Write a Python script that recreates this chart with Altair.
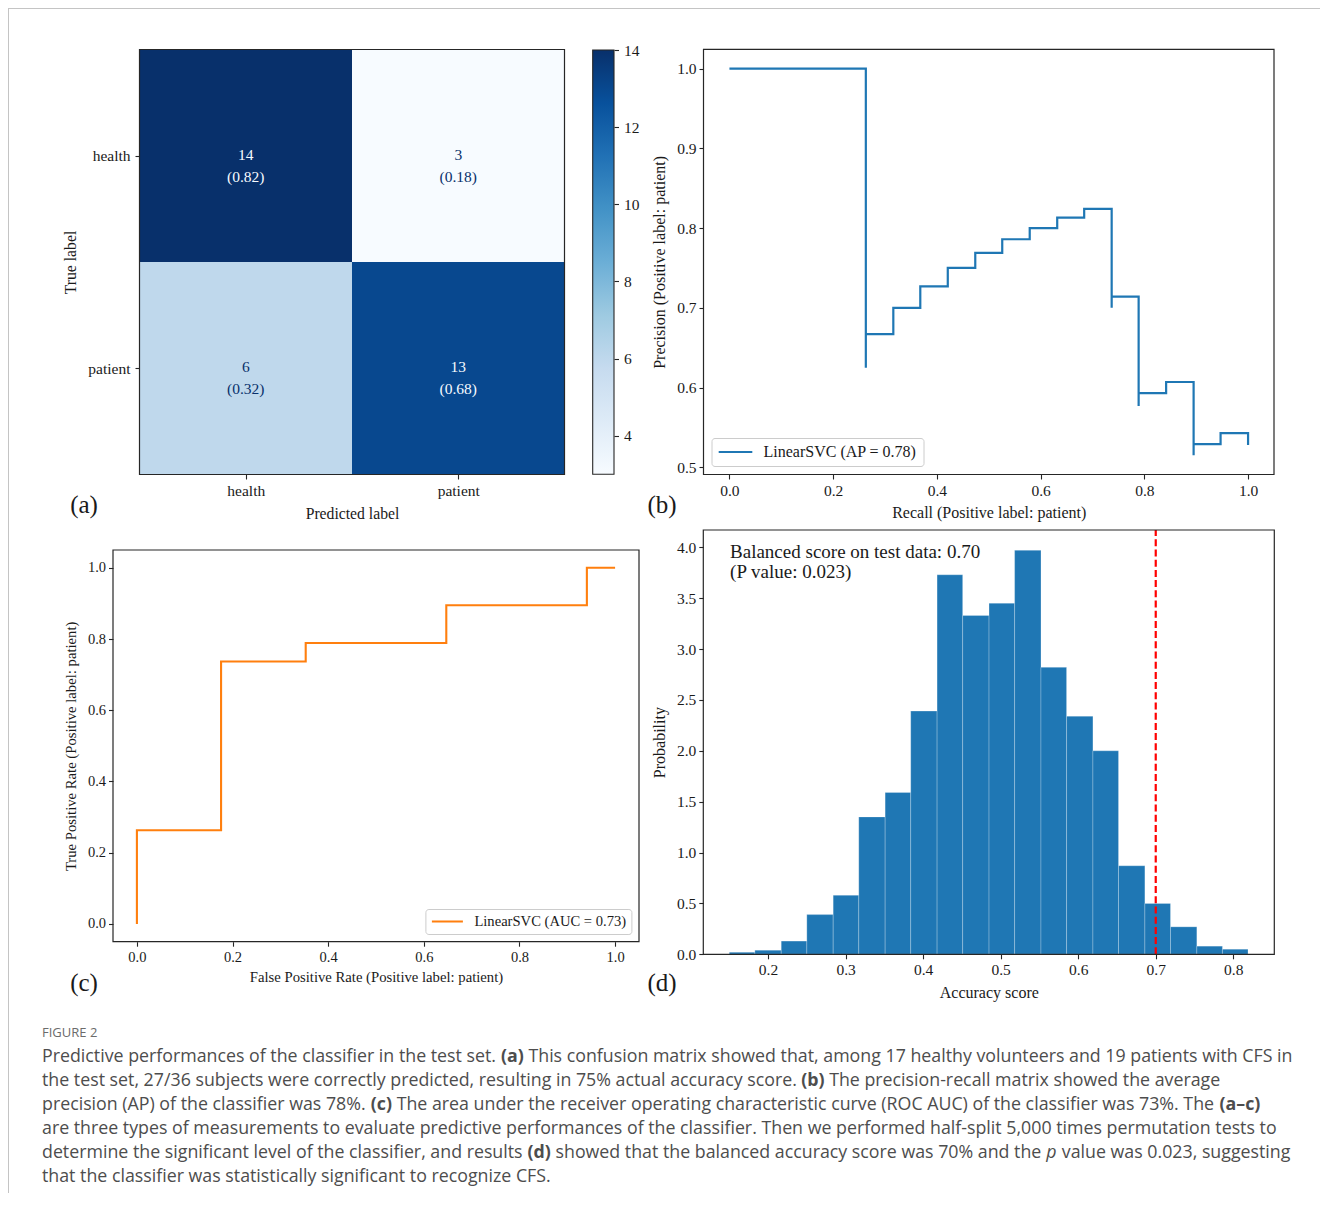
import glob
import json
import os
import struct

import altair as alt
import pandas as pd

# ---------------------------------------------------------------- canvas
W, H = 1313, 1185
SERIF = "Liberation Serif"
SANS = "Open Sans"
INK = "#1a1a1a"
SPINE = "#262626"

# ---------------------------------------------------------------- (a) confusion matrix
class_labels = ["health", "patient"]
cm_counts = [[14, 3], [6, 13]]
cm_ratios = [["(0.82)", "(0.18)"], ["(0.32)", "(0.68)"]]
cbar_limits = [3, 14]
cbar_ticks = [4, 6, 8, 10, 12, 14]
blues9 = ["#f7fbff", "#deebf7", "#c6dbef", "#9ecae1", "#6baed6",
          "#4292c6", "#2171b5", "#08519c", "#08306b"]

# ---------------------------------------------------------------- (b) precision-recall
pr_recall = [1.000, 1.000, 0.947, 0.895, 0.895, 0.842, 0.789, 0.789, 0.737, 0.737,
             0.684, 0.632, 0.579, 0.526, 0.474, 0.421, 0.368, 0.316, 0.263, 0.263, 0.000]
pr_precision = [0.528, 0.543, 0.529, 0.515, 0.607, 0.593, 0.577, 0.714, 0.700, 0.824,
                0.813, 0.800, 0.786, 0.769, 0.750, 0.727, 0.700, 0.667, 0.625, 1.000, 1.000]
pr_label = "LinearSVC (AP = 0.78)"

# ---------------------------------------------------------------- (c) ROC
roc_fpr = [0.000, 0.000, 0.176, 0.176, 0.353, 0.353, 0.647, 0.647, 0.941, 0.941, 1.000]
roc_tpr = [0.000, 0.263, 0.263, 0.737, 0.737, 0.789, 0.789, 0.895, 0.895, 1.000, 1.000]
roc_label = "LinearSVC (AUC = 0.73)"

# ---------------------------------------------------------------- (d) permutation histogram
hist_edges = [0.150, 0.183, 0.217, 0.250, 0.284, 0.317, 0.351, 0.384, 0.418, 0.451, 0.485,
              0.518, 0.552, 0.585, 0.619, 0.652, 0.686, 0.719, 0.753, 0.786, 0.819]
hist_density = [0.02, 0.04, 0.13, 0.39, 0.58, 1.35, 1.59, 2.39, 3.73, 3.33,
                3.45, 3.97, 2.82, 2.34, 2.00, 0.87, 0.50, 0.27, 0.08, 0.05]
test_score = 0.70
p_value = "0.023"

# ---------------------------------------------------------------- caption (segments: text, style)
caption_head = "FIGURE 2"
caption_segments = [
    [("Predictive performances of the classifier in the test set. ", "n"), ("(a)", "b"),
     (" This confusion matrix showed that, among 17 healthy volunteers and 19 patients with CFS in", "n")],
    [("the test set, 27/36 subjects were correctly predicted, resulting in 75% actual accuracy score. ", "n"),
     ("(b)", "b"), (" The precision-recall matrix showed the average", "n")],
    [("precision (AP) of the classifier was 78%. ", "n"), ("(c)", "b"),
     (" The area under the receiver operating characteristic curve (ROC AUC) of the classifier was 73%. The ", "n"),
     ("(a\u2013c)", "b")],
    [("are three types of measurements to evaluate predictive performances of the classifier. Then we performed half-split 5,000 times permutation tests to", "n")],
    [("determine the significant level of the classifier, and results ", "n"), ("(d)", "b"),
     (" showed that the balanced accuracy score was 70% and the ", "n"), ("p", "i"),
     (" value was 0.023, suggesting", "n")],
    [("that the classifier was statistically significant to recognize CFS.", "n")],
]

# ---------------------------------------------------------------- layout (pixels inside the chart)
A_X, A_Y = [131.5, 556.5], [41.5, 466.5]
CB_X, CB_Y = [584.7, 606.0], [466.3, 42.0]
B_X, B_Y = [695.5, 1266.0], [466.5, 41.3]
C_X, C_Y = [105.0, 631.0], [933.7, 542.0]
D_X, D_Y = [695.3, 1266.3], [946.3, 522.0]

A_LIM = [-0.5, 1.5]
B_XLIM, B_YLIM = [-0.05, 1.05], [0.491, 1.0242]
C_XLIM, C_YLIM = [-0.05, 1.05], [-0.05, 1.05]
D_XLIM, D_YLIM = [0.1165, 0.8529], [0.0, 4.17]

CAP_X, CAP_Y0, CAP_DY, CAP_SIZE = 34, 1049, 24, 17.8


# ---------------------------------------------------------------- font metrics (for caption runs)
def _ttf_width_fn(path):
    data = open(path, "rb").read()
    if data[:4] == b"ttcf":
        off0 = struct.unpack(">I", data[12:16])[0]
    else:
        off0 = 0
    num = struct.unpack(">H", data[off0 + 4:off0 + 6])[0]
    tabs = {}
    for i in range(num):
        tag, _cs, off, ln = struct.unpack(">4sIII", data[off0 + 12 + 16 * i: off0 + 28 + 16 * i])
        tabs[tag.decode("latin1")] = off
    upem = struct.unpack(">H", data[tabs["head"] + 18: tabs["head"] + 20])[0]
    nhm = struct.unpack(">H", data[tabs["hhea"] + 34: tabs["hhea"] + 36])[0]
    hm = tabs["hmtx"]
    adv = [struct.unpack(">H", data[hm + 4 * i: hm + 4 * i + 2])[0] for i in range(nhm)]
    co = tabs["cmap"]
    n = struct.unpack(">H", data[co + 2: co + 4])[0]
    sub = None
    for i in range(n):
        pid, eid, so = struct.unpack(">HHI", data[co + 4 + 8 * i: co + 12 + 8 * i])
        fmt = struct.unpack(">H", data[co + so: co + so + 2])[0]
        if fmt == 4 and pid in (0, 3):
            sub = co + so
            break
    segx2 = struct.unpack(">H", data[sub + 6: sub + 8])[0]
    seg = segx2 // 2
    ends = struct.unpack(">%dH" % seg, data[sub + 14: sub + 14 + segx2])
    starts = struct.unpack(">%dH" % seg, data[sub + 16 + segx2: sub + 16 + 2 * segx2])
    deltas = struct.unpack(">%dh" % seg, data[sub + 16 + 2 * segx2: sub + 16 + 3 * segx2])
    rpos = sub + 16 + 3 * segx2
    roffs = struct.unpack(">%dH" % seg, data[rpos: rpos + segx2])

    def gid(ch):
        c = ord(ch)
        for k in range(seg):
            if ends[k] >= c:
                if starts[k] > c:
                    return 0
                if roffs[k] == 0:
                    return (c + deltas[k]) & 0xFFFF
                addr = rpos + 2 * k + roffs[k] + 2 * (c - starts[k])
                g = struct.unpack(">H", data[addr: addr + 2])[0]
                return (g + deltas[k]) & 0xFFFF if g else 0
        return 0

    def width(s, size):
        return sum(adv[min(gid(ch), nhm - 1)] for ch in s) * size / upem

    width("abc", 10)
    return width


def _find_width_fn(names):
    roots = ["/usr/share/fonts", "/usr/local/share/fonts",
             os.path.expanduser("~/.local/share/fonts"), os.path.expanduser("~/.fonts")]
    for name in names:
        for root in roots:
            for p in sorted(glob.glob(os.path.join(root, "**", "*"), recursive=True)):
                base = os.path.basename(p)
                if base.lower().startswith(name.lower()) and base.lower().endswith((".ttf", ".otf")):
                    try:
                        return _ttf_width_fn(p)
                    except Exception:
                        continue
    return None


w_reg = _find_width_fn(["OpenSans-Regular", "OpenSans[", "OpenSans"])
w_bold = _find_width_fn(["OpenSans-Bold.", "OpenSans-Bold"])


def axis(orient, offset, title=None, values=None, fmt=None, lsize=15.5, tsize=16,
         lpad=None, tpad=6, label_expr=None):
    kw = dict(orient=orient, offset=offset, domain=False, grid=False, ticks=True,
              tickSize=4.5, tickColor=SPINE, tickWidth=1.1,
              labelFont=SERIF, labelFontSize=lsize, labelColor=INK,
              titleFont=SERIF, titleFontSize=tsize, titleFontWeight="normal",
              titleColor=INK, titlePadding=tpad, labelFlush=False, labelOverlap=False,
              labelPadding=(lpad if lpad is not None else (4 if orient == "bottom" else 3)))
    kw["title"] = title if title is not None else ""
    if values is not None:
        kw["values"] = values
    if fmt is not None:
        kw["format"] = fmt
    if label_expr is not None:
        kw["labelExpr"] = label_expr
    return alt.Axis(**kw)


def sc(domain, rng):
    return alt.Scale(domain=domain, range=rng, nice=False, zero=False)


def frame(xlim, ylim, xr, yr):
    df = pd.DataFrame({"fx0": [xlim[0]], "fx1": [xlim[1]], "fy0": [ylim[0]], "fy1": [ylim[1]]})
    return alt.Chart(df).mark_rect(fillOpacity=0, stroke=SPINE, strokeWidth=1.2).encode(
        x=alt.X("fx0:Q", scale=sc(xlim, xr), axis=None), x2="fx1",
        y=alt.Y("fy0:Q", scale=sc(ylim, yr), axis=None), y2="fy1")


# ================================================================ panel (a)
cells = pd.DataFrame([
    {"col": j, "row": i, "count": cm_counts[i][j], "ratio": cm_ratios[i][j]}
    for i in range(len(class_labels)) for j in range(len(class_labels))
])
lab_expr = json.dumps(class_labels) + "[datum.value]"
cstops = [cbar_limits[0] + (cbar_limits[1] - cbar_limits[0]) * k / 8 for k in range(9)]

a_rect = alt.Chart(cells).transform_calculate(
    x0="datum.col - 0.5", x1="datum.col + 0.5",
    y0="datum.row - 0.5", y1="datum.row + 0.5"
).mark_rect().encode(
    x=alt.X("x0:Q", scale=sc(A_LIM, A_X),
            axis=axis("bottom", A_Y[1] - H, "Predicted label", [0, 1], lsize=15.5,
                      tsize=15.7, tpad=8, label_expr=lab_expr)),
    x2="x1:Q",
    y=alt.Y("y0:Q", scale=sc(A_LIM, A_Y),
            axis=axis("left", -A_X[0], "True label", [0, 1], lsize=15.5, tsize=15.7,
                      lpad=5, tpad=9, label_expr=lab_expr)),
    y2="y1:Q",
    color=alt.Color("count:Q", scale=alt.Scale(domain=cstops, range=blues9,
                                                interpolate="rgb"), legend=None),
)
txt_color = alt.condition("datum.count > 8.5", alt.value(blues9[0]), alt.value(blues9[-1]))
a_count = alt.Chart(cells).mark_text(font=SERIF, fontSize=15.5, dy=-1).encode(
    x=alt.X("col:Q", scale=sc(A_LIM, A_X), axis=None),
    y=alt.Y("row:Q", scale=sc(A_LIM, A_Y), axis=None),
    text="count:Q", fill=txt_color)
a_ratio = alt.Chart(cells).mark_text(font=SERIF, fontSize=15.5, dy=21).encode(
    x=alt.X("col:Q", scale=sc(A_LIM, A_X), axis=None),
    y=alt.Y("row:Q", scale=sc(A_LIM, A_Y), axis=None),
    text="ratio:N", fill=txt_color)
a_frame = frame(A_LIM, A_LIM, A_X, A_Y)

# colour bar
cb_df = pd.DataFrame({"c0": [0], "c1": [1], "v0": [cbar_limits[0]], "v1": [cbar_limits[1]]})
grad = alt.LinearGradient(
    gradient="linear", x1=0, y1=1, x2=0, y2=0,
    stops=[alt.GradientStop(color=c, offset=k / 8) for k, c in enumerate(blues9)])
colorbar = alt.Chart(cb_df).mark_rect(fill=grad, stroke=SPINE, strokeWidth=1.1).encode(
    x=alt.X("c0:Q", scale=sc([0, 1], CB_X), axis=None),
    x2="c1:Q",
    y=alt.Y("v0:Q", scale=sc(cbar_limits, CB_Y),
            axis=axis("right", CB_X[1] - W, None, cbar_ticks, fmt="d", lpad=5)),
    y2="v1:Q",
)

# ================================================================ panel (b)
pr_df = pd.DataFrame({"recall": pr_recall, "precision": pr_precision,
                      "i": list(range(len(pr_recall))), "series": pr_label})
b_line = alt.Chart(pr_df).mark_line(interpolate="step-after", strokeWidth=2.2).encode(
    x=alt.X("recall:Q", scale=sc(B_XLIM, B_X),
            axis=axis("bottom", B_Y[0] - H, "Recall (Positive label: patient)",
                      [0, 0.2, 0.4, 0.6, 0.8, 1.0], ".1f", tsize=16)),
    y=alt.Y("precision:Q", scale=sc(B_YLIM, B_Y),
            axis=axis("left", -B_X[0], "Precision (Positive label: patient)",
                      [0.5, 0.6, 0.7, 0.8, 0.9, 1.0], ".1f", tsize=16, tpad=9)),
    order="i:Q",
    color=alt.Color("series:N", scale=alt.Scale(domain=[pr_label], range=["#1f77b4"]),
                    legend=alt.Legend(orient="none", legendX=703.5, legendY=430, title=None,
                                      symbolType="stroke", symbolSize=1130, clipHeight=16,
                                      symbolStrokeWidth=2.2, labelFont=SERIF,
                                      labelFontSize=16, labelColor=INK, labelOffset=10,
                                      padding=6, strokeColor="#cccccc",
                                      fillColor="#ffffff", cornerRadius=3)),
)
b_frame = frame(B_XLIM, B_YLIM, B_X, B_Y)

# ================================================================ panel (c)
roc_df = pd.DataFrame({"fpr": roc_fpr, "tpr": roc_tpr,
                       "i": list(range(len(roc_fpr))), "series": roc_label})
c_line = alt.Chart(roc_df).mark_line(strokeWidth=2.1).encode(
    x=alt.X("fpr:Q", scale=sc(C_XLIM, C_X),
            axis=axis("bottom", C_Y[0] - H, "False Positive Rate (Positive label: patient)",
                      [0, 0.2, 0.4, 0.6, 0.8, 1.0], ".1f", lsize=14.5, tsize=14.7)),
    y=alt.Y("tpr:Q", scale=sc(C_YLIM, C_Y),
            axis=axis("left", -C_X[0], "True Positive Rate (Positive label: patient)",
                      [0, 0.2, 0.4, 0.6, 0.8, 1.0], ".1f", lsize=14.5, tsize=14.7, tpad=9)),
    order="i:Q",
    color=alt.Color("series:N", scale=alt.Scale(domain=[roc_label], range=["#ff7f0e"]),
                    legend=alt.Legend(orient="none", legendX=417.4, legendY=901, title=None,
                                      symbolType="stroke", symbolSize=961, clipHeight=15,
                                      symbolStrokeWidth=2.1, labelFont=SERIF,
                                      labelFontSize=14.6, labelColor=INK, labelOffset=10,
                                      padding=5, strokeColor="#cccccc",
                                      fillColor="#ffffff", cornerRadius=3)),
)
c_frame = frame(C_XLIM, C_YLIM, C_X, C_Y)

# ================================================================ panel (d)
hist_df = pd.DataFrame({"lo": hist_edges[:-1], "hi": hist_edges[1:], "density": hist_density})
d_bars = alt.Chart(hist_df).mark_rect(color="#1f77b4", stroke="#ffffff", strokeOpacity=0.3,
                                      strokeWidth=0.8).encode(
    x=alt.X("lo:Q", scale=sc(D_XLIM, D_X),
            axis=axis("bottom", D_Y[0] - H, "Accuracy score",
                      [0.2, 0.3, 0.4, 0.5, 0.6, 0.7, 0.8], ".1f", tsize=16)),
    x2="hi:Q",
    y=alt.Y("density:Q", scale=sc(D_YLIM, D_Y),
            axis=axis("left", -D_X[0], "Probability",
                      [0, 0.5, 1.0, 1.5, 2.0, 2.5, 3.0, 3.5, 4.0], ".1f", tsize=16, tpad=9)),
    y2=alt.datum(0),
)
vline_df = pd.DataFrame({"score": [test_score], "y0": [D_YLIM[0]], "y1": [D_YLIM[1]]})
d_rule = alt.Chart(vline_df).mark_rule(color="#ff0000", strokeDash=[7, 3.2], strokeWidth=2.2).encode(
    x=alt.X("score:Q", scale=sc(D_XLIM, D_X), axis=None),
    y=alt.Y("y0:Q", scale=sc(D_YLIM, D_Y), axis=None), y2="y1:Q")
ann_df = pd.DataFrame({
    "ax": [0.151, 0.151], "ay": [3.95, 3.755],
    "t": [f"Balanced score on test data: {test_score:.2f}", f"(P value: {p_value})"]})
d_text = alt.Chart(ann_df).mark_text(font=SERIF, fontSize=19, align="left", baseline="middle",
                                     color=INK).encode(
    x=alt.X("ax:Q", scale=sc(D_XLIM, D_X), axis=None),
    y=alt.Y("ay:Q", scale=sc(D_YLIM, D_Y), axis=None), text="t:N")
d_frame = frame(D_XLIM, D_YLIM, D_X, D_Y)

# ================================================================ annotations
one = pd.DataFrame({"k": [0]})


def label(txt, x, y, **kw):
    return alt.Chart(one).mark_text(text=txt, **kw).encode(x=alt.value(x), y=alt.value(y))


letters = [
    label("(a)", 76, 497, font=SERIF, fontSize=25, color=INK),
    label("(b)", 654, 497, font=SERIF, fontSize=25, color=INK),
    label("(c)", 76, 975, font=SERIF, fontSize=25, color=INK),
    label("(d)", 654, 975, font=SERIF, fontSize=25, color=INK),
]
cap_head = label(caption_head, CAP_X, 1025, font=SANS, fontSize=13, color="#6b6b6b",
                 align="left", baseline="middle")

# caption runs placed one after another along each line
runs = []
for li, segs in enumerate(caption_segments):
    y = CAP_Y0 + li * CAP_DY
    if w_reg is None:
        runs.append({"t": "".join(s for s, _ in segs), "x": CAP_X, "y": y, "st": "n"})
        continue
    x = CAP_X
    for s, st in segs:
        lead = len(s) - len(s.lstrip(" "))
        runs.append({"t": s.strip(" "), "x": x + w_reg(" " * lead, CAP_SIZE), "y": y, "st": st})
        if st == "b":
            x += (w_bold(s, CAP_SIZE) if w_bold else w_reg(s, CAP_SIZE) * 1.07)
        else:
            x += w_reg(s, CAP_SIZE)
runs_df = pd.DataFrame(runs)


def cap_layer(style, **kw):
    return alt.Chart(runs_df).transform_filter(f"datum.st == '{style}'").mark_text(
        font=SANS, fontSize=CAP_SIZE, color="#4d4d4d", align="left", baseline="middle", **kw
    ).encode(x=alt.X("x:Q", scale=None, axis=None), y=alt.Y("y:Q", scale=None, axis=None),
             text="t:N")


cap_n = cap_layer("n")
cap_b = cap_layer("b", fontWeight="bold")
cap_i = cap_layer("i", fontStyle="italic")

border_top = alt.Chart(one).mark_rule(color="#c4c4c4", strokeWidth=1).encode(
    x=alt.value(0), x2=alt.value(1312), y=alt.value(0.5))
border_left = alt.Chart(one).mark_rule(color="#c4c4c4", strokeWidth=1).encode(
    x=alt.value(0.5), y=alt.value(0), y2=alt.value(H))

chart = alt.layer(
    a_rect, a_count, a_ratio, a_frame, colorbar,
    b_line, b_frame,
    c_line, c_frame,
    d_bars, d_rule, d_text, d_frame,
    *letters, cap_head, cap_n, cap_b, cap_i, border_top, border_left,
).resolve_scale(
    x="independent", y="independent", color="independent"
).properties(
    width=W, height=H, padding=0, autosize=alt.AutoSizeParams(type="none")
).configure_view(strokeWidth=0)

chart.save("out.html", embed_options={"renderer": "svg", "actions": False})
